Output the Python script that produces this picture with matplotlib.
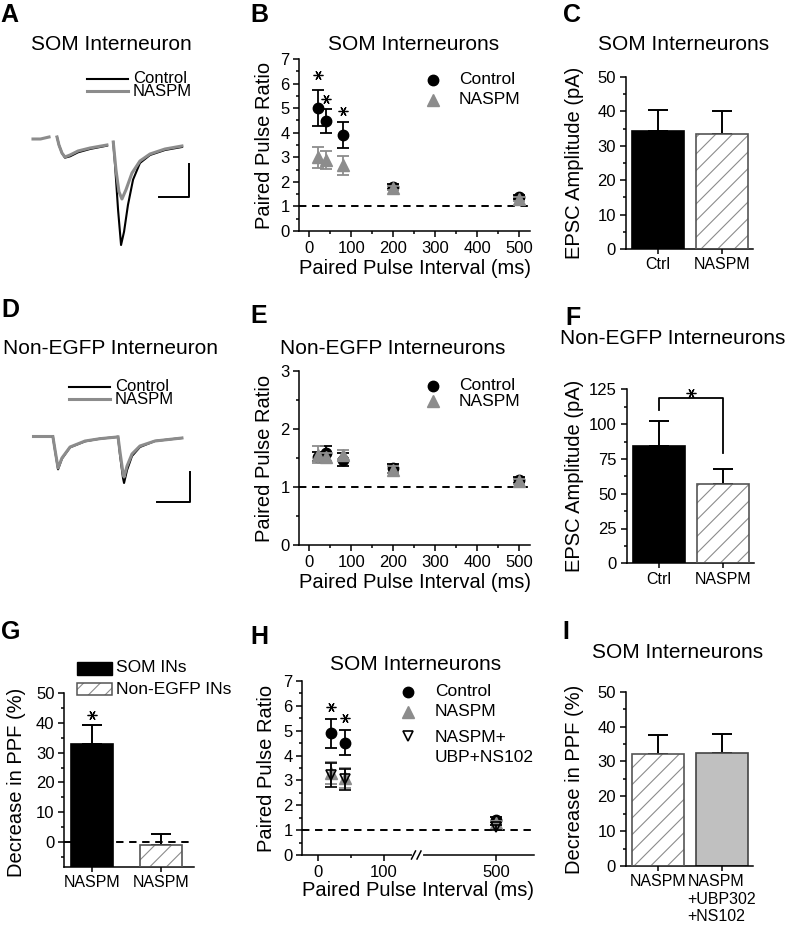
import numpy as np
import matplotlib
matplotlib.use("Agg")
import matplotlib.pyplot as plt
from matplotlib.lines import Line2D
from matplotlib.patches import Rectangle
from matplotlib.ticker import MultipleLocator, FixedLocator

plt.rcParams["font.family"] = "Liberation Sans"
plt.rcParams["hatch.linewidth"] = 0.8
plt.rcParams["hatch.color"] = "#8c8c8c"

GRAY = "#8c8c8c"
W, H = 787, 933

# ---- A: SOM interneuron traces (time ms, current pA) ----
a_stub_t = [0, 5, 10.7]
a_stub_i = [0, 0, 3]
a_ctrl1_t = [16, 17.3, 19.3, 21.3, 24.7, 30, 38, 49.3]
a_ctrl1_i = [3, -9, -21, -28, -26, -20, -15, -10]
a_nas1_t = [16, 17.3, 19.3, 21.3, 24.7, 30, 38, 49.3]
a_nas1_i = [3, -9, -21, -27, -24, -18, -13.5, -9]
a_ctrl2_t = [53.5, 54.7, 56.7, 58.7, 60.7, 63.3, 66.7, 71.3, 78, 88, 99.3]
a_ctrl2_i = [-4.5, -39, -106, -159, -139, -99, -61, -36, -24, -16.5, -12]
a_nas2_t = [53.5, 55.3, 57.3, 59.3, 62, 66, 71.3, 78, 88, 99.3]
a_nas2_i = [-4.5, -46, -79, -90, -76, -51, -33, -22.5, -15, -10.5]

# ---- D: non-EGFP interneuron traces ----
d_stub_t = [0, 12.7]
d_stub_i = [0, 0]
d_ctrl1_t = [13.3, 14.7, 16.7, 19.3, 24.7, 34.7, 44.7, 56]
d_ctrl1_i = [-1.5, -22, -50, -34, -17, -8, -4, -1.5]
d_nas1_t = [13.3, 14.7, 16.7, 19.3, 24.7, 34.7, 44.7, 56]
d_nas1_i = [-1.5, -21, -48, -33, -16.5, -7.5, -4, -1.5]
d_ctrl2_t = [56.7, 58, 60, 60.7, 62.7, 66, 71.3, 81.3, 99.3]
d_ctrl2_i = [-1.5, -28.5, -63, -70.5, -51, -30, -16.5, -7.5, -3]
d_nas2_t = [56.7, 58, 60, 60.7, 62.7, 66, 71.3, 81.3, 99.3]
d_nas2_i = [-1.5, -24, -55.5, -61.5, -45, -27, -15, -7.5, -3]

# ---- B: SOM paired pulse ratio ----
ppi = [20, 40, 80, 200, 500]
som_ctrl = [5.0, 4.48, 3.9, 1.8, 1.4]
som_ctrl_err = [0.73, 0.5, 0.54, 0.1, 0.08]
som_naspm = [3.0, 2.88, 2.67, 1.75, 1.3]
som_naspm_err = [0.43, 0.36, 0.39, 0.08, 0.07]
som_star_x = [20, 40, 80]
som_star_y = [6.33, 5.36, 4.9]

# ---- E: non-EGFP paired pulse ratio ----
ne_ctrl = [1.52, 1.58, 1.47, 1.32, 1.12]
ne_ctrl_err = [0.08, 0.13, 0.11, 0.08, 0.05]
ne_naspm = [1.56, 1.52, 1.56, 1.3, 1.1]
ne_naspm_err = [0.14, 0.07, 0.07, 0.06, 0.04]

# ---- H: SOM with UBP302 + NS102 ----
ppi_h = [20, 40, 500]
h_ctrl = [4.9, 4.52, 1.42]
h_ctrl_err = [0.58, 0.5, 0.1]
h_naspm = [3.3, 3.1, 1.3]
h_naspm_err = [0.45, 0.4, 0.08]
h_ubp = [3.22, 3.05, 1.12]
h_ubp_err = [0.48, 0.42, 0.1]
h_star_x = [20, 40]
h_star_y = [5.97, 5.5]

# ---- bar panels ----
c_labels = ["Ctrl", "NASPM"]
c_vals = [34.3, 33.3]
c_err = [6.0, 6.7]
f_labels = ["Ctrl", "NASPM"]
f_vals = [84.2, 56.7]
f_err = [18.2, 11.0]
g_labels = ["NASPM", "NASPM"]
g_vals = [32.8, -1.1]
g_err = [6.5, 3.6]
i_labels = ["NASPM", "NASPM\n+UBP302\n+NS102"]
i_vals = [32.1, 32.5]
i_err = [5.5, 5.4]

fig = plt.figure(figsize=(7.87, 9.33), dpi=100)


def box(l, t, r, b):
    return fig.add_axes([l / W, 1 - b / H, (r - l) / W, (b - t) / H])


def ftext(px, py, s, **kw):
    kw.setdefault("ha", "center")
    kw.setdefault("va", "center")
    fig.text(px / W, 1 - py / H, s, **kw)


def fline(xs, ys, **kw):
    fig.add_artist(Line2D([x / W for x in xs], [1 - y / H for y in ys], **kw))


def fmark(px, py, **kw):
    fig.add_artist(Line2D([px / W], [1 - py / H], ls="none", **kw))


def style(ax):
    ax.spines[["top", "right"]].set_visible(False)
    ax.spines[["left", "bottom"]].set_linewidth(1.1)
    ax.tick_params(which="major", direction="out", length=4.5, width=1.1, labelsize=12, pad=2.5)
    ax.tick_params(which="minor", direction="out", length=2.5, width=1.1)


def star(ax, xs, ys):
    ax.plot(xs, ys, ls="none", marker=(6, 2, 90), ms=7, mec="k", mew=0.9)


# panel labels
for lab, px, py in [("A", 9, 15), ("B", 259, 15), ("C", 572, 15),
                    ("D", 10, 310), ("E", 259, 316), ("F", 573, 318),
                    ("G", 11, 632), ("H", 259, 637), ("I", 566, 632)]:
    ftext(px, py, lab, fontsize=18, fontweight="bold")

# titles
for s, px, py in [("SOM Interneuron", 111, 45), ("SOM Interneurons", 414, 45),
                  ("SOM Interneurons", 684, 45), ("Non-EGFP Interneuron", 111, 348),
                  ("Non-EGFP Interneurons", 393, 349), ("Non-EGFP Interneurons", 673, 339),
                  ("SOM Interneurons", 416, 665), ("SOM Interneurons", 678, 653)]:
    ftext(px, py, s, fontsize=15)

# y labels
for s, px, py in [("Paired Pulse Ratio", 264, 145), ("Paired Pulse Ratio", 264, 458),
                  ("Paired Pulse Ratio", 266, 768), ("EPSC Amplitude (pA)", 575, 163),
                  ("EPSC Amplitude (pA)", 575, 476), ("Decrease in PPF (%)", 17, 782),
                  ("Decrease in PPF (%)", 575, 779)]:
    ftext(px, py, s, fontsize=14.5, rotation=90)

# ---------- A ----------
ax = box(25, 120, 200, 260)
ax.set_axis_off()
ax.set_xlim(-5.33, 111.33)
ax.set_ylim(-181.5, 28.5)
ax.plot(a_stub_t, a_stub_i, color=GRAY, lw=2.2)
ax.plot(a_ctrl1_t, a_ctrl1_i, color="k", lw=1.5)
ax.plot(a_ctrl2_t, a_ctrl2_i, color="k", lw=1.5)
ax.plot(a_nas1_t, a_nas1_i, color=GRAY, lw=2.2)
ax.plot(a_nas2_t, a_nas2_i, color=GRAY, lw=2.2)
ax.plot([104, 104, 84], [-37.5, -87, -87], color="k", lw=1.4)
fline([87, 128], [78.5, 78.5], color="k", lw=1.5)
fline([87, 128], [91, 91], color=GRAY, lw=2.2)
ftext(133, 78.5, "Control", fontsize=12, ha="left")
ftext(133, 92, "NASPM", fontsize=12, ha="left")

# ---------- D ----------
ax = box(25, 420, 200, 520)
ax.set_axis_off()
ax.set_xlim(-5.33, 111.33)
ax.set_ylim(-126, 24)
ax.plot(d_stub_t, d_stub_i, color=GRAY, lw=2.2)
ax.plot(d_ctrl1_t, d_ctrl1_i, color="k", lw=1.5)
ax.plot(d_ctrl2_t, d_ctrl2_i, color="k", lw=1.5)
ax.plot(d_nas1_t, d_nas1_i, color=GRAY, lw=2.2)
ax.plot(d_nas2_t, d_nas2_i, color=GRAY, lw=2.2)
ax.plot([104.7, 104.7, 82.7], [-54, -99, -99], color="k", lw=1.4)
fline([69, 110], [386.5, 386.5], color="k", lw=1.5)
fline([69, 110], [399, 399], color=GRAY, lw=2.2)
ftext(115, 386.5, "Control", fontsize=12, ha="left")
ftext(115, 400, "NASPM", fontsize=12, ha="left")


# ---------- B / E ----------
def ppr_panel(ax, ctrl, ctrl_err, nas, nas_err, ytop):
    style(ax)
    ax.axhline(1, color="k", lw=1.4, ls=(0, (3.8, 2.9)), zorder=1)
    ax.errorbar(ppi, ctrl, yerr=ctrl_err, fmt="o", ms=7.5, mfc="k", mec="k",
                ecolor="k", elinewidth=1.3, capsize=4, capthick=1.3, zorder=3)
    ax.errorbar(ppi, nas, yerr=nas_err, fmt="^", ms=8.5, mfc=GRAY, mec=GRAY,
                ecolor=GRAY, elinewidth=1.3, capsize=4, capthick=1.3, zorder=4)
    ax.set_xlim(-24, 526)
    ax.set_ylim(0, ytop)
    ax.xaxis.set_major_locator(MultipleLocator(100))
    ax.xaxis.set_minor_locator(MultipleLocator(50))
    ax.yaxis.set_major_locator(MultipleLocator(1))
    ax.yaxis.set_minor_locator(MultipleLocator(0.5))
    ax.set_xlabel("Paired Pulse Interval (ms)", fontsize=14.5, labelpad=2)


ax = box(299.3, 59, 530, 231)
ppr_panel(ax, som_ctrl, som_ctrl_err, som_naspm, som_naspm_err, 7)
star(ax, som_star_x, som_star_y)
fmark(433, 80, marker="o", ms=7.5, color="k")
fmark(433, 100, marker="^", ms=8.5, color=GRAY)
ftext(459, 80, "Control", fontsize=12.5, ha="left")
ftext(459, 100, "NASPM", fontsize=12.5, ha="left")

ax = box(299.3, 371, 530, 545)
ppr_panel(ax, ne_ctrl, ne_ctrl_err, ne_naspm, ne_naspm_err, 3)
fmark(433, 386, marker="o", ms=7.5, color="k")
fmark(433, 401, marker="^", ms=8.5, color=GRAY)
ftext(459, 386, "Control", fontsize=12.5, ha="left")
ftext(459, 401, "NASPM", fontsize=12.5, ha="left")


# ---------- bar panels ----------
def hatched_bar(ax, x, h, w, bottom=0):
    ax.bar(x, h, w, bottom=bottom, color="white", edgecolor=GRAY, hatch="//", lw=0, zorder=2)
    ax.bar(x, h, w, bottom=bottom, fill=False, edgecolor="#555555", lw=1.2, zorder=3)


def err_up(ax, x, v, e):
    ax.errorbar(x, v, yerr=[[0], [e]], fmt="none", ecolor="k", elinewidth=1.4,
                capsize=7, capthick=1.4, zorder=1)


def bar_style(ax, labels, xl):
    style(ax)
    ax.set_xlim(*xl)
    ax.set_xticks([0, 1], labels, fontsize=11.5)
    ax.tick_params(axis="x", length=3.5)


# C
ax = box(625.7, 77, 753, 249)
err_up(ax, 0, c_vals[0], c_err[0])
err_up(ax, 1, c_vals[1], c_err[1])
ax.bar(0, c_vals[0], 0.81, color="k", edgecolor="k", lw=1.2, zorder=2)
hatched_bar(ax, 1, c_vals[1], 0.81)
bar_style(ax, c_labels, (-0.5, 1.48))
ax.set_ylim(0, 50)
ax.yaxis.set_major_locator(MultipleLocator(10))
ax.yaxis.set_minor_locator(MultipleLocator(5))

# F
ax = box(626.7, 389.3, 754, 563.3)
err_up(ax, 0, f_vals[0], f_err[0])
err_up(ax, 1, f_vals[1], f_err[1])
ax.bar(0, f_vals[0], 0.81, color="k", edgecolor="k", lw=1.2, zorder=2)
hatched_bar(ax, 1, f_vals[1], 0.81)
bar_style(ax, f_labels, (-0.5, 1.48))
ax.set_ylim(0, 125)
ax.yaxis.set_major_locator(MultipleLocator(25))
ax.yaxis.set_minor_locator(MultipleLocator(12.5))
ax.plot([0, 0, 1, 1], [110, 118.5, 118.5, 79], color="k", lw=1.3, clip_on=False)
star(ax, [0.5], [122.5])

# G
gmin = -8.4
ax = box(64.3, 693.3, 194, 866.7)
ax.plot([-0.404, 1.475], [0, 0], color="k", lw=1.4, ls=(0, (3.8, 2.9)), zorder=0.5)
err_up(ax, 0, g_vals[0], g_err[0])
err_up(ax, 1, g_vals[1], g_err[1])
ax.bar(0, g_vals[0] - gmin, 0.613, bottom=gmin, color="k", edgecolor="k", lw=1.2, zorder=2)
hatched_bar(ax, 1, g_vals[1] - gmin, 0.613, bottom=gmin)
bar_style(ax, g_labels, (-0.404, 1.475))
ax.set_ylim(gmin, 50)
ax.yaxis.set_major_locator(MultipleLocator(10))
ax.yaxis.set_minor_locator(MultipleLocator(5))
star(ax, [0], [42.6])
fig.add_artist(Rectangle((76.7 / W, 1 - 675 / H), 35 / W, 13.3 / H, facecolor="k", edgecolor="k", lw=1))
fig.add_artist(Rectangle((76.7 / W, 1 - 695 / H), 35 / W, 12.3 / H, facecolor="white",
                         edgecolor=GRAY, hatch="//", lw=0))
fig.add_artist(Rectangle((76.7 / W, 1 - 695 / H), 35 / W, 12.3 / H, fill=False,
                         edgecolor="#555555", lw=1.1))
ftext(116, 668, "SOM INs", fontsize=12.5, ha="left")
ftext(116, 689, "Non-EGFP INs", fontsize=12.5, ha="left")

# I
ax = box(625.7, 691.7, 752.7, 866)
err_up(ax, 0, i_vals[0], i_err[0])
err_up(ax, 1, i_vals[1], i_err[1])
hatched_bar(ax, 0, i_vals[0], 0.81)
ax.bar(1, i_vals[1], 0.81, color="#c0c0c0", edgecolor="#444444", lw=1.2, zorder=2)
bar_style(ax, i_labels, (-0.5, 1.48))
for t in ax.get_xticklabels():
    t.set_verticalalignment("top")
    t.set_multialignment("left")
ax.set_ylim(0, 50)
ax.yaxis.set_major_locator(MultipleLocator(10))
ax.yaxis.set_minor_locator(MultipleLocator(5))


# ---------- H (broken x axis) ----------
def fwd(x):
    x = np.asarray(x, float)
    return np.where(x <= 150, x, np.where(x >= 380, x - 230, 150.0))


def inv(y):
    y = np.asarray(y, float)
    return np.where(y <= 150, y, y + 230)


ax = box(302.3, 681, 534, 855)
style(ax)
ax.set_xscale("function", functions=(fwd, inv))
ax.set_xlim(-24.4, 558)
ax.set_ylim(0, 7)
ax.axhline(1, color="k", lw=1.4, ls=(0, (3.8, 2.9)), zorder=1)
ax.errorbar(ppi_h, h_ctrl, yerr=h_ctrl_err, fmt="o", ms=7.5, mfc="k", mec="k",
            ecolor="k", elinewidth=1.3, capsize=4, capthick=1.3, zorder=3)
ax.errorbar(ppi_h, h_naspm, yerr=h_naspm_err, fmt="^", ms=8.5, mfc=GRAY, mec=GRAY,
            ecolor=GRAY, elinewidth=1.3, capsize=4, capthick=1.3, zorder=4)
ax.errorbar(ppi_h, h_ubp, yerr=h_ubp_err, fmt="v", ms=7.5, mfc="none", mec="k", mew=1.2,
            ecolor="k", elinewidth=1.3, capsize=4, capthick=1.3, zorder=5)
star(ax, h_star_x, h_star_y)
ax.xaxis.set_major_locator(FixedLocator([0, 100, 500]))
ax.xaxis.set_minor_locator(FixedLocator([50]))
ax.yaxis.set_major_locator(MultipleLocator(1))
ax.yaxis.set_minor_locator(MultipleLocator(0.5))
ax.set_xlabel("Paired Pulse Interval (ms)", fontsize=14.5, labelpad=1)
fline([413.5, 420.5], [855, 855], color="white", lw=3, zorder=10)
fline([411.5, 415.5], [859, 851], color="k", lw=1.1, zorder=11)
fline([417, 421], [859, 851], color="k", lw=1.1, zorder=11)

fmark(408, 692, marker="o", ms=7.5, color="k")
fmark(408, 712, marker="^", ms=8.5, color=GRAY)
fmark(408, 736, marker="v", ms=7.5, mfc="white", mec="k", mew=1.2)
ftext(435, 692, "Control", fontsize=12.5, ha="left")
ftext(435, 712, "NASPM", fontsize=12.5, ha="left")
ftext(435, 737, "NASPM+", fontsize=12.5, ha="left")
ftext(435, 757, "UBP+NS102", fontsize=12.5, ha="left")

fig.savefig("out.png", dpi=100)
